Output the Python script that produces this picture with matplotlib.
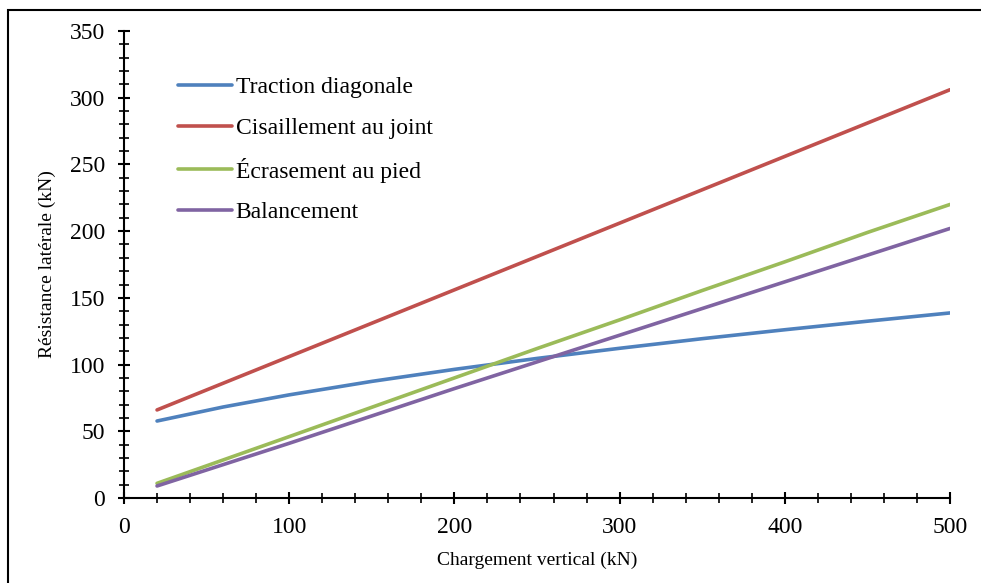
import matplotlib as mpl
mpl.rcParams['font.family'] = ['Liberation Serif', 'DejaVu Serif']
import matplotlib.pyplot as plt
from matplotlib.patches import Rectangle
from matplotlib.ticker import MultipleLocator

# chargement vertical (kN)
charge = [20, 60, 100, 150, 200, 250, 300, 350, 400, 450, 500]
# resistance laterale (kN) par mode de rupture
traction = [57.7, 68.2, 77.3, 87.4, 96.4, 104.6, 112.2, 119.4, 126.1, 132.5, 138.7]
cisaillement = [66, 86, 106, 131, 156, 181, 206, 231, 256, 281, 306]
ecrasement = [11, 28.5, 46, 68, 90, 112, 133.5, 155.5, 177, 199, 220]
balancement = [9, 25, 41, 61.5, 82, 102, 122, 142, 162, 182, 202]

noms = ['Traction diagonale', 'Cisaillement au joint', 'Écrasement au pied', 'Balancement']
couleurs = ['#4F81BD', '#C0504D', '#9BBB59', '#8064A2']

fig = plt.figure(figsize=(9.81, 5.83), dpi=100)
ax = fig.add_axes([124/981, 85/583, 826/981, 467/583])

for serie, nom, c in zip([traction, cisaillement, ecrasement, balancement], noms, couleurs):
    ax.plot(charge, serie, color=c, lw=2.6, label=nom, solid_capstyle='round')

ax.set_xlim(0, 500)
ax.set_ylim(0, 350)
ax.xaxis.set_major_locator(MultipleLocator(100))
ax.xaxis.set_minor_locator(MultipleLocator(20))
ax.yaxis.set_major_locator(MultipleLocator(50))
ax.yaxis.set_minor_locator(MultipleLocator(10))
ax.tick_params(which='major', direction='inout', length=9, width=1.5, labelsize=17, pad=9)
ax.tick_params(which='minor', direction='inout', length=7, width=1.2)
ax.spines['top'].set_visible(False)
ax.spines['right'].set_visible(False)
ax.spines['left'].set_linewidth(1.5)
ax.spines['bottom'].set_linewidth(1.5)

ax.set_xlabel('Chargement vertical (kN)', fontsize=14, labelpad=10)
ax.set_ylabel('Résistance latérale (kN)', fontsize=14, labelpad=10)

ax.legend(loc='upper left', bbox_to_anchor=(0.051, 0.927), frameon=False, fontsize=17,
          borderpad=0, handlelength=2.3, handletextpad=0.15, labelspacing=0.80)

# cadre autour de la figure
fig.patches.append(Rectangle((8/981, -0.1), 1.2, (573/583) + 0.1, transform=fig.transFigure,
                             fill=False, edgecolor='black', lw=1.5))

plt.savefig('out.png', dpi=100)
